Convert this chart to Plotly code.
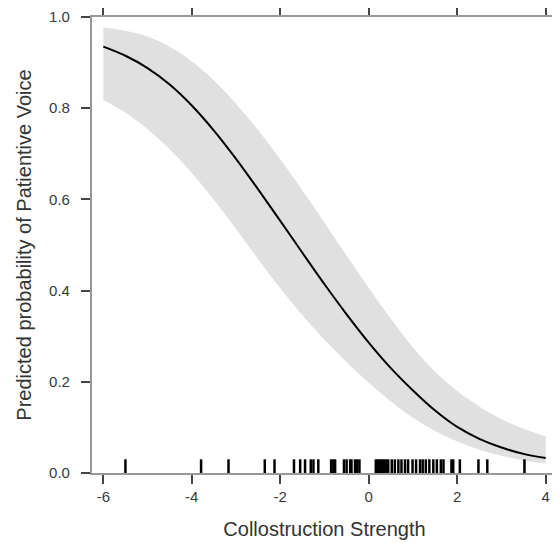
import plotly.graph_objects as go

# effect of collostruction strength
strength = [-6, -5.5, -5, -4.5, -4, -3.5, -3, -2.5, -2, -1.5, -1,
            -0.5, 0, 0.5, 1, 1.5, 2, 2.5, 3, 3.5, 4]
fit = [0.935, 0.915, 0.888, 0.852, 0.806, 0.751, 0.689, 0.622, 0.553, 0.483, 0.414,
       0.348, 0.286, 0.230, 0.181, 0.137, 0.101, 0.075, 0.056, 0.042, 0.033]
upper = [0.977, 0.970, 0.957, 0.935, 0.903, 0.861, 0.810, 0.752, 0.688, 0.620, 0.549,
         0.477, 0.406, 0.338, 0.275, 0.222, 0.180, 0.146, 0.118, 0.097, 0.080]
lower = [0.818, 0.790, 0.754, 0.710, 0.658, 0.599, 0.535, 0.469, 0.405, 0.346, 0.292,
         0.243, 0.198, 0.157, 0.121, 0.092, 0.069, 0.051, 0.038, 0.028, 0.021]

# observed values shown as a rug
rug = [-5.50, -3.79, -3.17, -2.35, -2.13, -1.69, -1.55, -1.44, -1.31, -1.25,
       -1.14, -0.85, -0.80, -0.76, -0.56, -0.50, -0.42, -0.39, -0.31, -0.26,
       -0.21, 0.16, 0.20, 0.24, 0.28, 0.32, 0.36, 0.40, 0.44, 0.52, 0.59,
       0.67, 0.74, 0.82, 0.89, 0.99, 1.07, 1.16, 1.22, 1.29, 1.37, 1.46,
       1.54, 1.63, 1.69, 1.87, 1.91, 2.06, 2.48, 2.68, 3.52]
rug_height = 0.03

x_ticks = [-6, -4, -2, 0, 2, 4]
x_labels = ['-6', '-4', '-2', '0', '2', '4']
y_ticks = [0, 0.2, 0.4, 0.6, 0.8, 1.0]
y_labels = ['0.0', '0.2', '0.4', '0.6', '0.8', '1.0']

x_range = [-6.256, 4.256]
y_range = [0, 1]

rug_x = []
rug_y = []
for v in rug:
    rug_x += [v, v, None]
    rug_y += [0, rug_height, None]

band_lo = go.Scatter(x=strength, y=lower, mode='lines',
                     line=dict(width=0, shape='spline'),
                     hoverinfo='skip')
band_hi = go.Scatter(x=strength, y=upper, mode='lines',
                     line=dict(width=0, shape='spline'),
                     fill='tonexty', fillcolor='#e0e0e0',
                     hoverinfo='skip')

curve = go.Scatter(x=strength, y=fit, mode='lines',
                   line=dict(color='black', width=2, shape='spline'))

ticks = go.Scatter(x=rug_x, y=rug_y, mode='lines',
                   line=dict(color='black', width=2.5),
                   hoverinfo='skip')

axis = dict(showgrid=False,
            zeroline=False,
            showline=True,
            linecolor='#999999',
            linewidth=1.5,
            mirror='allticks',
            ticks='outside',
            ticklen=9,
            tickwidth=1.5,
            tickcolor='#444444',
            automargin=False,
            tickfont=dict(family='Liberation Sans, Arial', size=15, color='#3a3a3a'))

# extra tick-only axes on the bottom and left so the outside ticks are always drawn
tick_axis = dict(showgrid=False,
                 zeroline=False,
                 showline=False,
                 showticklabels=False,
                 ticks='outside',
                 ticklen=9,
                 tickwidth=1.5,
                 tickcolor='#444444',
                 automargin=False)

# the page body adds an 8px offset, so the figure is a bit smaller than the window
fig = go.Figure(data=[band_lo, band_hi, curve, ticks])
fig.update_layout(
    width=552,
    height=535,
    showlegend=False,
    plot_bgcolor='white',
    paper_bgcolor='white',
    margin=dict(l=84, r=3, t=9, b=70),
    font=dict(family='Liberation Sans, Arial', color='#333333'),
    xaxis=dict(axis, range=x_range, tickvals=x_ticks, ticktext=x_labels,
               title=dict(text='Collostruction Strength', font=dict(size=20), standoff=18)),
    yaxis=dict(axis, range=y_range, tickvals=y_ticks, ticktext=[s + '  ' for s in y_labels],
               title=dict(text='Predicted probability of Patientive Voice', font=dict(size=20),
                          standoff=12)),
    xaxis2=dict(tick_axis, overlaying='x', side='bottom', anchor='y',
                range=x_range, tickvals=x_ticks),
    yaxis2=dict(tick_axis, overlaying='y', side='left', anchor='x',
                range=y_range, tickvals=y_ticks),
)

fig.write_html("out.html")
